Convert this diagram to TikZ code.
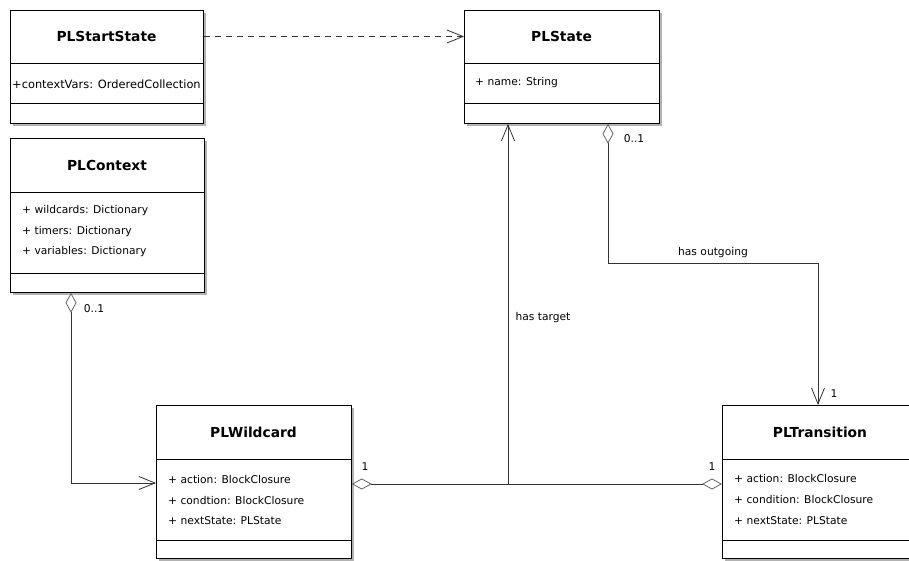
\documentclass[tikz,border=0pt]{standalone}
\usepackage{fontspec}
\setmainfont{DejaVu Sans}
\usetikzlibrary{arrows.meta,shadows}
\begin{document}
\begin{tikzpicture}[x=1pt,y=-1pt,
  classbox/.style={draw=black, line width=0.8pt, fill=white, anchor=north west, inner sep=0pt,
    drop shadow={shadow xshift=3pt, shadow yshift=-3pt, fill=black!30, opacity=1}},
  ctitle/.style={font=\bfseries\fontsize{13.8}{16}\selectfont, inner sep=0pt},
  cattr/.style={font=\fontsize{10.7}{12}\selectfont, anchor=west, inner sep=0pt},
  lbl/.style={font=\fontsize{10.7}{12}\selectfont, inner sep=0pt},
  sepline/.style={line width=0.8pt, draw=black},
  conn/.style={line width=0.8pt, draw=black!80},
  barbend/.style={arrows={-Straight Barb[length=16pt,width=13pt,line width=0.8pt]}},
  diamstart/.style={arrows={Diamond[open,length=20pt,width=11pt,line width=0.8pt,color=black!60]-}},
  diamend/.style={arrows={-Diamond[open,length=20pt,width=11pt,line width=0.8pt,color=black!60]}},
  diambarb/.style={arrows={Diamond[open,length=20pt,width=11pt,line width=0.8pt,color=black!60]-Straight Barb[length=16pt,width=13pt,line width=0.8pt]}}
]
\useasboundingbox (0,0) rectangle (909,561);
\clip (0,0) rectangle (909,561);
\fill[white] (0,0) rectangle (909,561);

% class boxes
\node[classbox, minimum width=193pt, minimum height=113pt] (start) at (10,10) {};
\node[classbox, minimum width=195pt, minimum height=113pt] (state) at (464,10) {};
\node[classbox, minimum width=194pt, minimum height=154pt] (ctx) at (10,138) {};
\node[classbox, minimum width=195pt, minimum height=153pt] (wild) at (156,405) {};
\node[classbox, minimum width=200pt, minimum height=153pt] (trans) at (722,405) {};

% separators
\coordinate (yA) at (0,63);
\coordinate (yB) at (0,103);
\draw[sepline] (start.west |- yA) -- (start.east |- yA);
\draw[sepline] (start.west |- yB) -- (start.east |- yB);
\draw[sepline] (state.west |- yA) -- (state.east |- yA);
\draw[sepline] (state.west |- yB) -- (state.east |- yB);
\coordinate (yC) at (0,192);
\coordinate (yD) at (0,273);
\draw[sepline] (ctx.west |- yC) -- (ctx.east |- yC);
\draw[sepline] (ctx.west |- yD) -- (ctx.east |- yD);
\coordinate (yE) at (0,459);
\coordinate (yF) at (0,540);
\draw[sepline] (wild.west |- yE) -- (wild.east |- yE);
\draw[sepline] (wild.west |- yF) -- (wild.east |- yF);
\draw[sepline] (trans.west |- yE) -- (trans.east |- yE);
\draw[sepline] (trans.west |- yF) -- (trans.east |- yF);

% titles
\node[ctitle] (startT) at (106.5,36.5) {PLStartState};
\node[ctitle] (stateT) at (561.5,36.5) {PLState};
\node[ctitle] (ctxT) at (107,165) {PLContext};
\node[ctitle] (wildT) at (253.5,432) {PLWildcard};
\node[ctitle] (transT) at (820,432) {PLTransition};

% attributes
\node[cattr, font=\fontsize{11.4}{13}\selectfont] (a1) at (12,84) {+contextVars: OrderedCollection};
\node[cattr] (a2) at (475,83) {+ name: String};
\node[cattr] (a3) at (22,211) {+ wildcards: Dictionary};
\node[cattr] (a4) at (22,231.5) {+ timers: Dictionary};
\node[cattr] (a5) at (22,252) {+ variables: Dictionary};
\node[cattr] (a6) at (168,480) {+ action: BlockClosure};
\node[cattr] (a7) at (168,500.5) {+ condtion: BlockClosure};
\node[cattr] (a8) at (168,521) {+ nextState: PLState};
\node[cattr] (a9) at (734,479) {+ action: BlockClosure};
\node[cattr] (a10) at (734,499.5) {+ condition: BlockClosure};
\node[cattr] (a11) at (734,520.5) {+ nextState: PLState};

% dependency PLStartState -> PLState
\draw[conn, dashed, dash pattern=on 6pt off 5pt, barbend] (start.east |- startT) -- (state.west |- startT);

% PLContext -> PLWildcard
\coordinate (cx) at (71,0);
\coordinate (cb) at (71,483);
\draw[conn, diambarb] (ctx.south -| cx) -- (cb) -- (wild.west |- cb);
\node[lbl] (l1) at (94,309) {0..1};

% PLState -> PLTransition (has outgoing)
\coordinate (sx) at (608,0);
\coordinate (sb) at (818,263);
\draw[conn, diambarb] (state.south -| sx) |- (sb) -- (sb |- trans.north);
\node[lbl] (l2) at (634,139) {0..1};
\node[lbl] (l3) at (713,253) {has outgoing};
\node[lbl] (l4) at (834,394) {1};

% has target
\coordinate (junc) at (508,484);
\draw[conn, diamstart] (wild.east |- junc) -- (junc);
\draw[conn, diamend] (junc) -- (trans.west |- junc);
\draw[conn, barbend] (junc) -- (junc |- state.south);
\node[lbl] (l5) at (543,318) {has target};
\node[lbl] (l6) at (365,467) {1};
\node[lbl] (l7) at (712,467) {1};
\end{tikzpicture}
\end{document}
